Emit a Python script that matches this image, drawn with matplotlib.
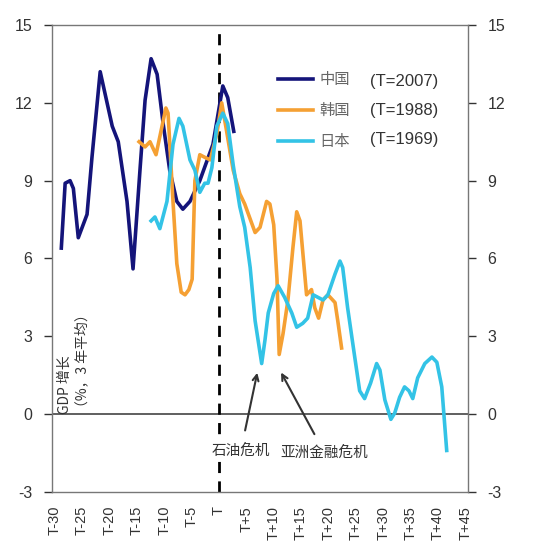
import numpy as np
import matplotlib.pyplot as plt

plt.rcParams['font.family'] = ['Liberation Sans', 'Noto Sans CJK SC', 'DejaVu Sans']
plt.rcParams['axes.unicode_minus'] = False

# values (T = start year of each country)
china_t = [-28.8, -28.1, -27.2, -26.6, -25.7, -24.1, -23.2, -21.7, -19.5, -18.4, -16.8,
           -15.7, -14.4, -13.5, -12.4, -11.3, -10.2, -9.0, -7.7, -6.6, -5.3, -3.5, -1.1,
           0.7, 1.6, 2.7]
china_v = [6.4, 8.9, 9.0, 8.7, 6.8, 7.7, 9.9, 13.2, 11.1, 10.5, 8.2,
           5.6, 9.5, 12.1, 13.7, 13.1, 11.2, 9.4, 8.2, 7.9, 8.2, 9.0, 10.4,
           12.65, 12.2, 10.9]

korea_t = [-14.6, -13.5, -12.6, -11.5, -10.4, -9.7, -9.3, -8.4, -7.7, -6.9, -6.2, -5.5,
           -4.9, -4.4, -3.5, -2.6, -1.6, -0.4, 0.5, 1.4, 2.6, 3.8, 4.7, 6.6, 7.5, 8.7,
           9.3, 10.0, 10.6, 11.0, 11.7, 12.6, 13.5, 14.2, 14.8, 16.0, 16.9, 17.5, 18.2,
           19.0, 19.9, 21.2, 21.7, 22.4]
korea_v = [10.5, 10.3, 10.5, 10.0, 11.1, 11.8, 11.6, 8.2, 5.8, 4.7, 4.6, 4.8,
           5.2, 9.0, 10.0, 9.9, 9.8, 10.8, 12.0, 10.9, 9.4, 8.5, 8.1, 7.0, 7.2, 8.2,
           8.1, 7.3, 5.2, 2.3, 3.1, 4.4, 6.4, 7.8, 7.45, 4.6, 4.8, 4.1, 3.7,
           4.4, 4.6, 4.3, 3.6, 2.55]

japan_t = [-12.4, -11.7, -10.8, -9.5, -8.4, -7.3, -6.6, -5.3, -4.4, -3.5, -2.6, -2.0,
           -1.3, -0.4, 0.7, 1.6, 2.6, 3.8, 4.7, 5.7, 6.6, 7.8, 8.4, 9.0, 10.0, 10.8,
           12.0, 13.3, 14.2, 15.3, 16.2, 17.2, 18.1, 19.0, 19.9, 21.2, 22.1, 22.6, 23.5,
           24.8, 25.7, 26.6, 27.7, 28.8, 29.4, 30.3, 31.4, 32.1, 33.0, 33.9, 34.7, 35.4,
           36.3, 37.6, 38.9, 39.8, 40.7, 41.6]
japan_v = [7.45, 7.6, 7.15, 8.2, 10.4, 11.4, 11.1, 9.8, 9.4, 8.55, 8.9, 8.9,
           9.5, 11.1, 11.6, 11.2, 9.6, 8.0, 7.2, 5.65, 3.6, 1.95, 2.85, 3.9, 4.65, 4.95,
           4.5, 3.9, 3.35, 3.5, 3.7, 4.6, 4.5, 4.4, 4.6, 5.4, 5.9, 5.65, 4.1,
           2.2, 0.9, 0.6, 1.2, 1.95, 1.7, 0.55, -0.2, 0.04, 0.65, 1.05, 0.9, 0.6,
           1.4, 1.95, 2.2, 2.0, 1.05, -1.4]

tick_pos = list(range(-30, 46, 5))
tick_labels = ['T-30', 'T-25', 'T-20', 'T-15', 'T-10', 'T-5', 'T', 'T+5', 'T+10',
               'T+15', 'T+20', 'T+25', 'T+30', 'T+35', 'T+40', 'T+45']
names = ['中国', '韩国', '日本']
base_years = ['(T=2007)', '(T=1988)', '(T=1969)']
colors = ['#14147a', '#f5a033', '#33c3e6']

fig = plt.figure(figsize=(5.34, 5.42), dpi=100)
ax = fig.add_axes([0.0974, 0.0923, 0.7791, 0.8616])

ax.axhline(0, color='#444444', linewidth=1.2, zorder=1)
ax.axvline(0, color='black', linewidth=2, linestyle=(0, (4, 3)), zorder=1)

ax.plot(china_t, china_v, color=colors[0], linewidth=2.6, label=names[0],
        solid_joinstyle='round')
ax.plot(korea_t, korea_v, color=colors[1], linewidth=2.6, label=names[1],
        solid_joinstyle='round')
ax.plot(japan_t, japan_v, color=colors[2], linewidth=2.6, label=names[2],
        solid_joinstyle='round')

ax.set_xlim(-30.5, 45.5)
ax.set_ylim(-3, 15)
ax.set_yticks(range(-3, 16, 3))
ax.set_xticks(tick_pos)
ax.set_xticklabels(tick_labels, rotation=90, fontsize=10.5, color='#333333')
ax.tick_params(axis='x', length=0, pad=10)
ax.tick_params(axis='y', labelsize=11.5, colors='#333333', length=6, width=1,
               left=True, right=True, labelleft=True, labelright=True, pad=8)
for s in ax.spines.values():
    s.set_color('#777777')
    s.set_linewidth(1.0)

leg = ax.legend(loc='upper left', bbox_to_anchor=(0.51, 0.93), frameon=False,
                handlelength=2.3, labelspacing=0.9, handletextpad=0.4,
                prop={'family': ['Noto Sans CJK SC'], 'size': 11})
for t in leg.get_texts():
    t.set_color('#666666')
for i, lbl in enumerate(base_years):
    ax.text(0.765, 0.878 - i * 0.062, lbl, transform=ax.transAxes, fontsize=12,
            va='center', ha='left', color='#333333')

ax.text(0.03, 0.168, 'GDP 增长', transform=ax.transAxes, rotation=90, fontsize=10,
        ha='center', va='bottom', color='#333333', family=['Noto Sans CJK SC'])
ax.text(0.072, 0.168, '（%，3 年平均）', transform=ax.transAxes, rotation=90, fontsize=10,
        ha='center', va='bottom', color='#333333', family=['Noto Sans CJK SC'])

box = dict(facecolor='white', edgecolor='none', pad=1.5)
ax.annotate('石油危机', xy=(7.1, 1.7), xytext=(4.0, -1.4), ha='center', va='center',
            fontsize=10.5, color='#333333', family=['Noto Sans CJK SC'], bbox=box,
            arrowprops=dict(arrowstyle='->', color='#333333', lw=1.5, shrinkA=8))
ax.annotate('亚洲金融危机', xy=(11.1, 1.7), xytext=(19.3, -1.5), ha='center', va='center',
            fontsize=10.5, color='#333333', family=['Noto Sans CJK SC'], bbox=box,
            arrowprops=dict(arrowstyle='->', color='#333333', lw=1.5, shrinkA=8))

fig.savefig('out.png', dpi=100)
